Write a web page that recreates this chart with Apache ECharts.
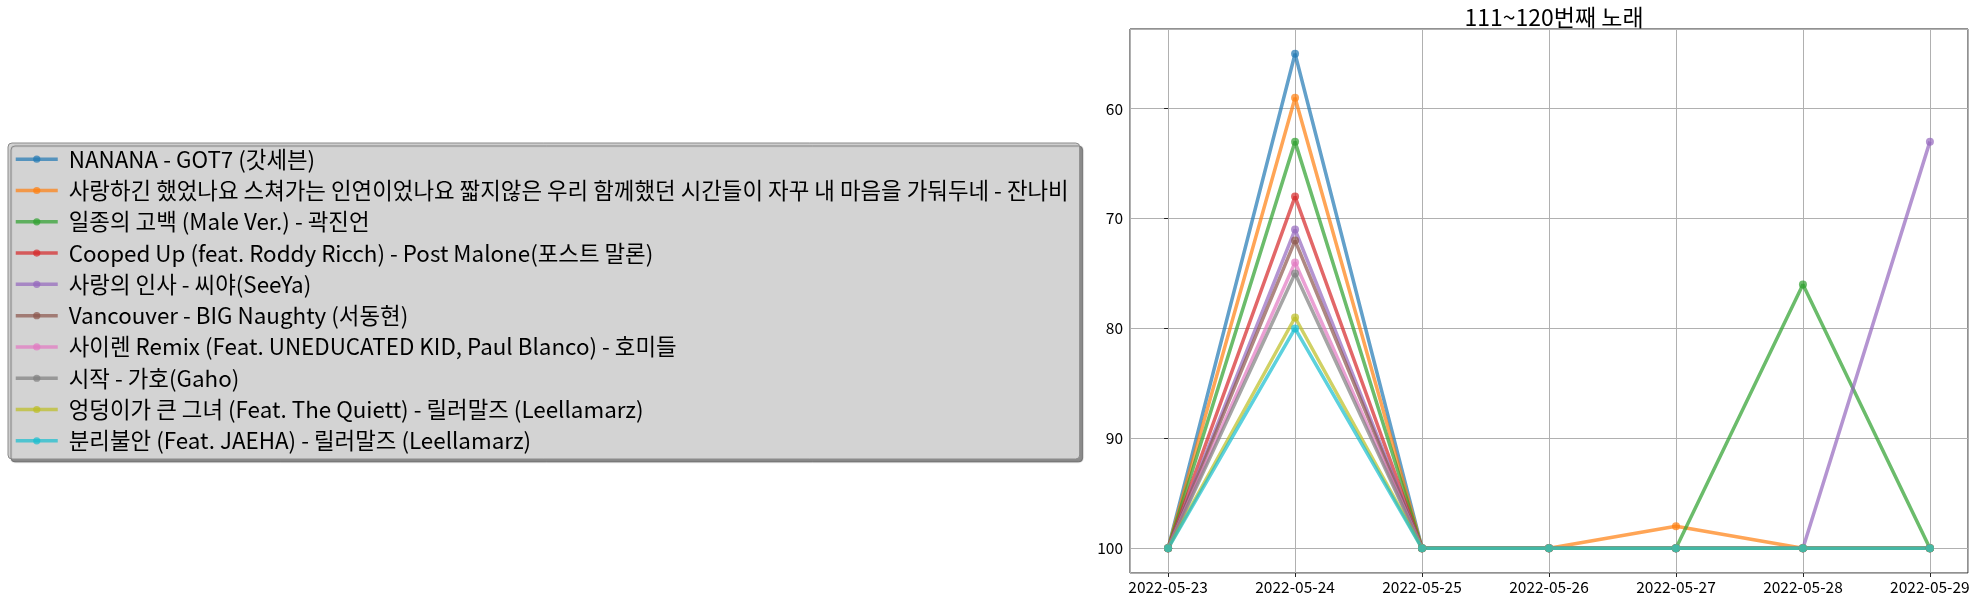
<!DOCTYPE html>
<html>
<head>
<meta charset="utf-8">
<script src="https://cdn.jsdelivr.net/npm/echarts@6/dist/echarts.min.js"></script>
<style>
html,body{margin:0;padding:0;background:#fff;}
#chart{width:1975px;height:603px;}
</style>
</head>
<body>
<div id="chart"></div>
<script>
const titleText = '111~120번째 노래';
const dates = ['2022-05-23','2022-05-24','2022-05-25','2022-05-26','2022-05-27','2022-05-28','2022-05-29'];
const songNames = [
  'NANANA - GOT7 (갓세븐)',
  '사랑하긴 했었나요 스쳐가는 인연이었나요 짧지않은 우리 함께했던 시간들이 자꾸 내 마음을 가둬두네 - 잔나비',
  '일종의 고백 (Male Ver.) - 곽진언',
  'Cooped Up (feat. Roddy Ricch) - Post Malone(포스트 말론)',
  '사랑의 인사 - 씨야(SeeYa)',
  'Vancouver - BIG Naughty (서동현)',
  '사이렌 Remix (Feat. UNEDUCATED KID, Paul Blanco) - 호미들',
  '시작 - 가호(Gaho)',
  '엉덩이가 큰 그녀 (Feat. The Quiett) - 릴러말즈 (Leellamarz)',
  '분리불안 (Feat. JAEHA) - 릴러말즈 (Leellamarz)'
];
const rankNanana   = [100, 55, 100, 100, 100, 100, 100];
const rankJannabi  = [100, 59, 100, 100, 98, 100, 100];
const rankGobaek   = [100, 63, 100, 100, 100, 76, 100];
const rankCooped   = [100, 68, 100, 100, 100, 100, 100];
const rankInsa     = [100, 71, 100, 100, 100, 100, 63];
const rankVancouver= [100, 72, 100, 100, 100, 100, 100];
const rankSiren    = [100, 74, 100, 100, 100, 100, 100];
const rankSijak    = [100, 75, 100, 100, 100, 100, 100];
const rankGeunyeo  = [100, 79, 100, 100, 100, 100, 100];
const rankBunri    = [100, 80, 100, 100, 100, 100, 100];
const allRanks = [rankNanana, rankJannabi, rankGobaek, rankCooped, rankInsa, rankVancouver, rankSiren, rankSijak, rankGeunyeo, rankBunri];
const yTicks = [60, 70, 80, 90, 100];

const colors = ['#1f77b4','#ff7f0e','#2ca02c','#d62728','#9467bd','#8c564b','#e377c2','#7f7f7f','#bcbd22','#17becf'];
const FONT = '"Noto Sans CJK KR", "Noto Sans", sans-serif';

const chart = echarts.init(document.getElementById('chart'), null, {renderer: 'canvas'});
const series = songNames.map((name, i) => ({
  name: name,
  type: 'line',
  data: allRanks[i].map((v, j) => [j, v]),
  symbol: 'circle',
  symbolSize: 8,
  showSymbol: true,
  lineStyle: {width: 3.5, color: colors[i], opacity: 0.7},
  itemStyle: {color: colors[i], opacity: 0.7},
  emphasis: {disabled: true},
  animation: false
}));

chart.setOption({
  backgroundColor: '#ffffff',
  animation: false,
  color: colors,
  textStyle: {fontFamily: FONT},
  title: {
    text: titleText,
    left: 1549,
    textAlign: 'center',
    top: 1,
    textStyle: {fontFamily: FONT, fontSize: 23, fontWeight: 'normal', color: '#000'}
  },
  legend: {
    orient: 'vertical',
    left: 8,
    top: 143,
    padding: [5, 11, 7, 6],
    itemWidth: 42,
    itemHeight: 9,
    itemGap: 8.9,
    backgroundColor: '#d3d3d3',
    borderColor: '#8a8a8a',
    borderWidth: 1,
    borderRadius: 4,
    shadowColor: 'rgba(0,0,0,0.45)',
    shadowOffsetX: 3,
    shadowOffsetY: 3,
    shadowBlur: 1,
    lineStyle: {width: 3.5},
    textStyle: {fontFamily: FONT, fontSize: 22.4, color: '#000', lineHeight: 22, padding: [0, 0, 0, 6]},
    data: songNames
  },
  grid: {
    left: 1130,
    right: 7,
    top: 29,
    bottom: 30,
    show: true,
    borderColor: '#222',
    borderWidth: 1,
    backgroundColor: 'transparent',
    containLabel: false
  },
  xAxis: {
    type: 'value',
    min: -0.3,
    max: 6.3,
    minInterval: 1,
    maxInterval: 1,
    axisLine: {show: false},
    axisTick: {show: true, length: 4, lineStyle: {color: '#222'}},
    splitLine: {show: true, lineStyle: {color: '#b0b0b0', width: 1}},
    axisLabel: {
      showMinLabel: false,
      showMaxLabel: false,
      margin: 6,
      fontFamily: FONT,
      fontSize: 15.5,
      color: '#000',
      formatter: v => (Number.isInteger(v) && dates[v]) ? dates[v] : ''
    }
  },
  yAxis: {
    type: 'value',
    inverse: true,
    min: 52.75,
    max: 102.25,
    minInterval: 10,
    maxInterval: 10,
    axisLine: {show: false},
    axisTick: {show: true, length: 4, lineStyle: {color: '#222'}},
    splitLine: {show: true, lineStyle: {color: '#b0b0b0', width: 1}},
    axisLabel: {
      showMinLabel: false,
      showMaxLabel: false,
      margin: 7,
      fontFamily: FONT,
      fontSize: 15.5,
      color: '#000',
      formatter: v => yTicks.indexOf(v) >= 0 ? String(v) : ''
    }
  },
  series: series
});
</script>
</body>
</html>
